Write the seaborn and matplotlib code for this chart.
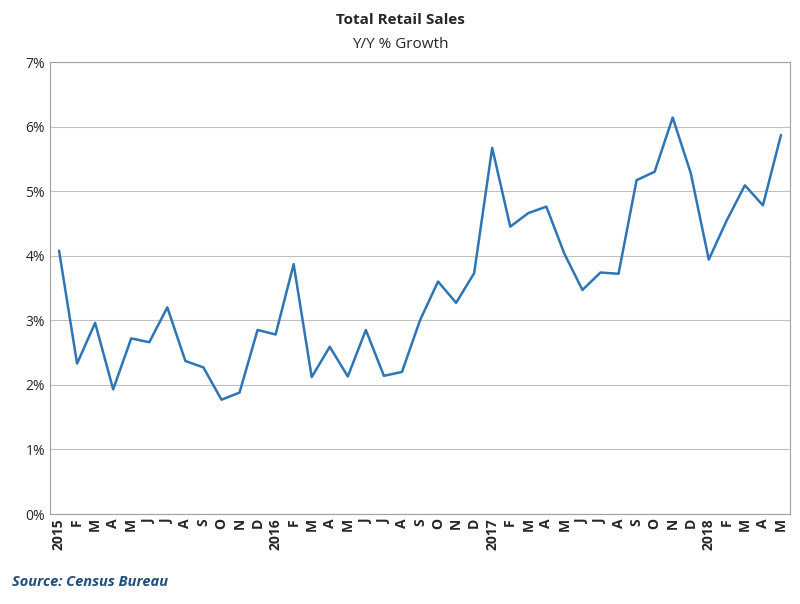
import matplotlib
matplotlib.use("Agg")
import matplotlib.pyplot as plt
import seaborn as sns
import pandas as pd
from matplotlib.ticker import FuncFormatter

values = [4.08, 2.33, 2.96, 1.93, 2.72, 2.66, 3.20, 2.37, 2.27, 1.77, 1.88, 2.85,
          2.78, 3.87, 2.12, 2.59, 2.13, 2.85, 2.14, 2.20, 3.00, 3.60, 3.27, 3.73,
          5.67, 4.45, 4.66, 4.76, 4.03, 3.47, 3.74, 3.72, 5.17, 5.30, 6.14, 5.28,
          3.94, 4.55, 5.09, 4.78, 5.87]
months = ["J", "F", "M", "A", "M", "J", "J", "A", "S", "O", "N", "D"]
labels = []
for i in range(len(values)):
    if i % 12 == 0:
        labels.append(str(2015 + i // 12))
    else:
        labels.append(months[i % 12])

df = pd.DataFrame({"x": range(len(values)), "y": values})

sns.set_style("white")
plt.rcParams['font.family'] = ['Open Sans', 'DejaVu Sans']
fig = plt.figure(figsize=(8, 6.04), dpi=100)
ax = fig.add_axes([50/800, 90/604, 740/800, 452/604])
sns.lineplot(data=df, x="x", y="y", ax=ax, color="#2e75b6", linewidth=1.8)
ax.set_xlim(-0.5, len(values) - 0.5)
ax.set_ylim(0, 7)
ax.set_yticks(range(0, 8))
ax.yaxis.set_major_formatter(FuncFormatter(lambda v, p: f"{int(v)}%"))
ax.grid(axis="y", color="#c0c0c0", linewidth=0.8)
ax.set_xticks(range(len(values)))
ax.set_xticklabels(labels, rotation=90, fontweight="bold", fontsize=10)
ax.tick_params(axis="y", labelsize=10, length=0)
ax.tick_params(axis="x", length=0, pad=3)
for s in ax.spines.values():
    s.set_color("#a0a0a0")
    s.set_linewidth(0.8)
ax.set_xlabel("")
ax.set_ylabel("")
fig.text(0.5, 1 - 20/604, "Total Retail Sales", ha="center", va="center", fontsize=11, fontweight="bold")
fig.text(0.5, 1 - 44/604, "Y/Y % Growth", ha="center", va="center", fontsize=11)
fig.text(12/800, 1 - 582/604, "Source: Census Bureau", ha="left", va="center", fontsize=10.5,
         fontweight="bold", fontstyle="italic", color="#1f4e79")
fig.savefig("out.png", dpi=100)
